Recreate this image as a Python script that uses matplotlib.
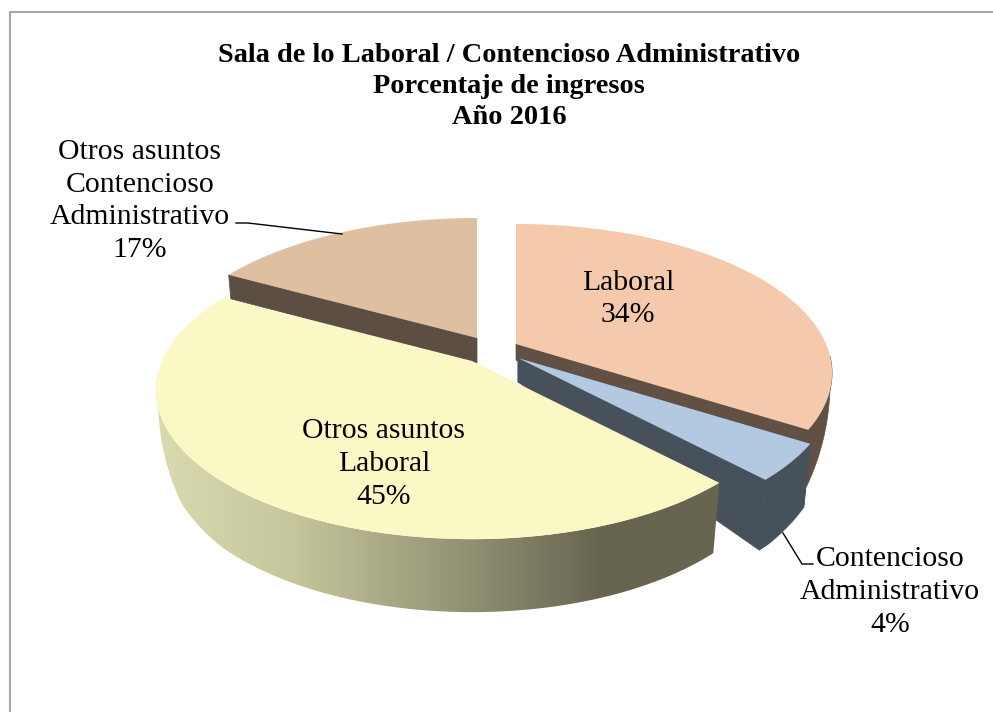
import numpy as np
import matplotlib
matplotlib.use("Agg")
import matplotlib.pyplot as plt
from matplotlib.patches import Polygon

# percentages, clockwise from the top of the pie
names = ["Laboral", "Contencioso\nAdministrativo", "Otros asuntos\nLaboral", "Otros asuntos\nContencioso\nAdministrativo"]
percent = [34, 4, 45, 17]
title_lines = ["Sala de lo Laboral / Contencioso Administrativo", "Porcentaje de ingresos", "Año 2016"]

top_colors = ["#F5C9AB", "#B3C8E1", "#FAF9C5", "#DEBFA0"]
wall_colors = ["#625045", "#47515C", None, "#5C4E42"]

# exploded position of each slice's tip on screen, and how deep the tip looks
tips = [(516, 344), (518, 358), (472, 361), (477, 338)]
tip_depth = [16, 24, 22, 25]

RX, RY, PERSP = 310, 143.4, 0.195


def rim(tip, a):
    # a in degrees clockwise from the top
    X = np.sin(np.radians(a))
    Y = np.cos(np.radians(a))
    w = 1 / (1 + PERSP * Y)
    return tip[0] + RX * X * w, tip[1] - RY * Y * w, Y


def rim_bottom(tip, a):
    x, y, Y = rim(tip, a)
    t = np.interp(Y, [-1, -0.7, -0.5, -0.35, -0.2, -0.08, 0.05, 0.3, 1], [73, 70, 62, 42, 22, 0, 0, 24, 24])
    return tip[0] + (x - tip[0]) * (1 - 0.00035 * t), y + t


def shade(x):
    # yellow wall gets darker to the right
    xs = [160, 293, 465, 600, 730]
    r = np.interp(x, xs, [0xDA, 0xC6, 0x92, 0x67, 0x67]) / 255
    g = np.interp(x, xs, [0xDA, 0xC6, 0x91, 0x65, 0x65]) / 255
    b = np.interp(x, xs, [0xB0, 0x9C, 0x74, 0x4F, 0x4F]) / 255
    return np.stack([r, g, b], axis=-1)


fig = plt.figure(figsize=(9.93, 7.12), dpi=100)
ax = fig.add_axes([0, 0, 1, 1])
ax.plot([10, 10, 993], [712, 12, 12], color="#A6A6A6", lw=1.5, zorder=1)

edges = np.cumsum([0] + percent) * 3.6

for i in [3, 0, 1, 2]:
    tip = tips[i]
    a0, a1 = edges[i], edges[i + 1]
    angles = np.linspace(a0, a1, 300)
    z = 2 + [3, 0, 1, 2].index(i)
    top = np.array([rim(tip, a)[:2] for a in angles])
    bottom = np.array([rim_bottom(tip, a) for a in angles])
    tip_low = (tip[0], tip[1] + tip_depth[i])
    front = np.cos(np.radians(angles)) < -0.08

    if wall_colors[i] is None:
        # gradient wall, clipped to the rim band
        band = np.r_[top[front], bottom[front][::-1]]
        grad_x = np.arange(140, 740)
        img = ax.imshow(shade(grad_x)[np.newaxis, :, :], extent=(140, 740, 700, 300), aspect="auto", zorder=z)
        clip = Polygon(band, closed=True, transform=ax.transData, fc="none", ec="none")
        ax.add_patch(clip)
        img.set_clip_path(clip)
    else:
        if front.any():
            ax.fill(np.r_[top[front, 0], bottom[front][::-1, 0]], np.r_[top[front, 1], bottom[front][::-1, 1]],
                    fc=wall_colors[i], ec=wall_colors[i], lw=0.5, zorder=z)
        # cut faces at the ends of the slice, the back one of the last slice does not show
        if i != 3:
            ax.fill([tip[0], top[-1, 0], bottom[-1, 0], tip_low[0]],
                    [tip[1], top[-1, 1], bottom[-1, 1], tip_low[1]],
                    fc=wall_colors[i], ec=wall_colors[i], lw=0.5, zorder=z)
        ax.fill([tip[0], top[0, 0], bottom[0, 0], tip_low[0]],
                [tip[1], top[0, 1], bottom[0, 1], tip_low[1]],
                fc=wall_colors[i], ec=wall_colors[i], lw=0.5, zorder=z)

    ax.fill(np.r_[tip[0], top[:, 0]], np.r_[tip[1], top[:, 1]], color=top_colors[i], lw=0, zorder=z + 0.5)

font = "Liberation Serif"
for line, y in zip(title_lines, [62, 93, 124]):
    ax.text(509, y, line, ha="center", va="baseline", family=font, weight="bold", fontsize=20.4, zorder=10)

label_pos = [(628, 299), (890, 592), (384, 464), (140, 201)]
for i in range(4):
    ax.text(label_pos[i][0], label_pos[i][1], names[i] + "\n" + str(percent[i]) + "%", ha="center", va="center",
            family=font, fontsize=21.4, linespacing=1.33, zorder=10)

# leader lines
ax.plot([236, 248, 342], [223, 223, 234], color="black", lw=1, zorder=9)
ax.plot([783, 802, 813], [533, 564, 564], color="black", lw=1, zorder=9)

ax.set_xlim(0, 993)
ax.set_ylim(712, 0)
ax.axis("off")

fig.savefig("out.png", dpi=100)
